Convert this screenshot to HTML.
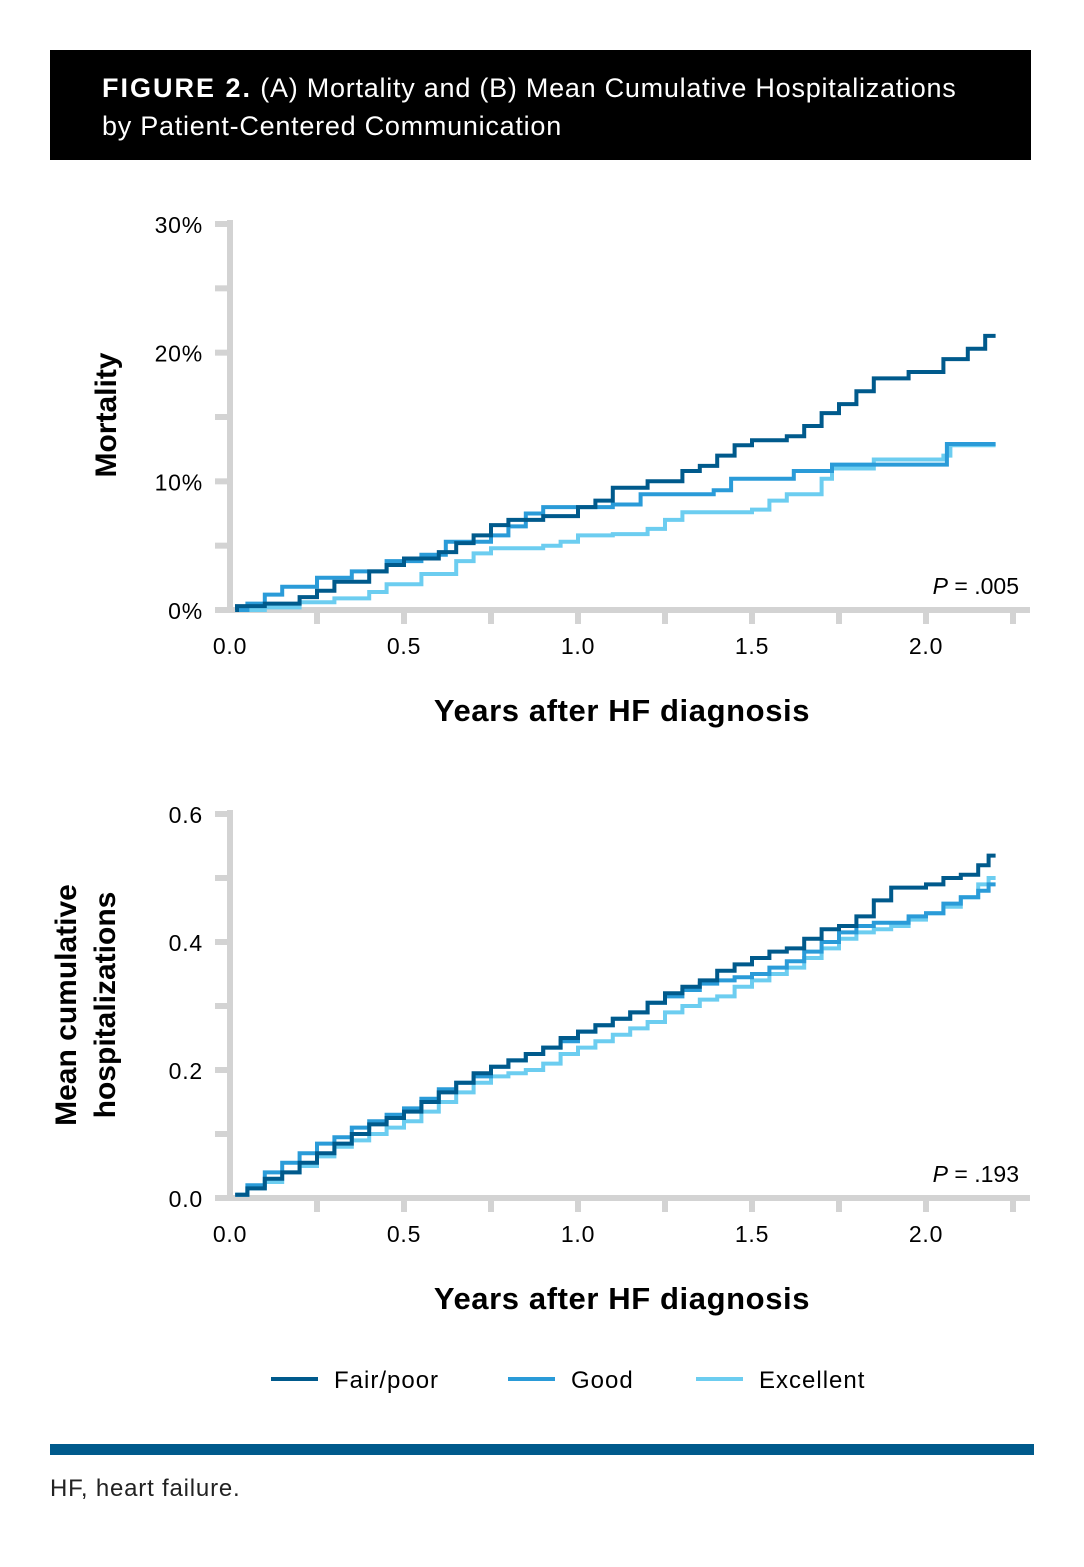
<!DOCTYPE html>
<html><head><meta charset="utf-8">
<style>
html,body{margin:0;padding:0;background:#fff;}
body{width:1084px;height:1562px;overflow:hidden;font-family:"Liberation Sans",sans-serif;}
svg text{font-family:"Liberation Sans",sans-serif;}
</style></head>
<body>
<svg id="fig" width="1084" height="1562" viewBox="0 0 1084 1562" xmlns="http://www.w3.org/2000/svg">
  <rect x="50" y="50" width="981" height="110" fill="#000"/>
  <text x="102" y="97" fill="#fff" font-size="27" letter-spacing="0.75"><tspan font-weight="bold" letter-spacing="2">FIGURE 2.</tspan> (A) Mortality and (B) Mean Cumulative Hospitalizations</text>
  <text x="102" y="135" fill="#fff" font-size="27" letter-spacing="0.75">by Patient-Centered Communication</text>
  <g id="chartA"></g>
  <g id="chartB"></g>
  <text x="116" y="415" font-size="30" font-weight="bold" text-anchor="middle" transform="rotate(-90 116 415)">Mortality</text>
  <text x="622" y="721" font-size="31" font-weight="bold" letter-spacing="0.6" text-anchor="middle">Years after HF diagnosis</text>
  <text x="76" y="1005" font-size="30" font-weight="bold" text-anchor="middle" transform="rotate(-90 76 1005)">Mean cumulative</text>
  <text x="115" y="1005" font-size="30" font-weight="bold" text-anchor="middle" transform="rotate(-90 115 1005)">hospitalizations</text>
  <text x="622" y="1309" font-size="31" font-weight="bold" letter-spacing="0.6" text-anchor="middle">Years after HF diagnosis</text>
  <g>
    <line x1="271" y1="1379" x2="318" y2="1379" stroke="#005a8c" stroke-width="4"/>
    <text x="334" y="1388" font-size="24" letter-spacing="1">Fair/poor</text>
    <line x1="508" y1="1379" x2="555" y2="1379" stroke="#2a9bd8" stroke-width="4"/>
    <text x="571" y="1388" font-size="24" letter-spacing="1">Good</text>
    <line x1="696" y1="1379" x2="743" y2="1379" stroke="#6ccdf0" stroke-width="4"/>
    <text x="759" y="1388" font-size="24" letter-spacing="1">Excellent</text>
  </g>
  <rect x="50" y="1444" width="984" height="11" fill="#005a8c"/>
  <text x="50" y="1496" font-size="24" letter-spacing="0.8" fill="#222">HF, heart failure.</text>
</svg>
<script>
const xTickLabels = ["0.0","0.5","1.0","1.5","2.0"];
const xTickValues = [0,0.5,1.0,1.5,2.0];
const aYTickLabels = ["0%","10%","20%","30%"];
const aYTickValues = [0,10,20,30];
const bYTickLabels = ["0.0","0.2","0.4","0.6"];
const bYTickValues = [0,0.2,0.4,0.6];

const aFairT = [0,0.02,0.1,0.2,0.25,0.3,0.4,0.45,0.5,0.6,0.65,0.7,0.75,0.8,0.9,1.0,1.05,1.1,1.2,1.3,1.35,1.4,1.45,1.5,1.6,1.65,1.7,1.75,1.8,1.85,1.95,2.05,2.12,2.17];
const aFairV = [0,0.3,0.5,1.0,1.5,2.2,3.0,3.5,4.0,4.5,5.2,5.8,6.6,7.0,7.3,8.0,8.5,9.5,10.0,10.8,11.2,12.0,12.8,13.2,13.5,14.3,15.3,16.0,17.0,18.0,18.5,19.5,20.3,21.3];
const aGoodT = [0,0.05,0.1,0.15,0.25,0.35,0.45,0.55,0.62,0.75,0.8,0.85,0.9,1.1,1.18,1.39,1.44,1.62,1.73,2.06];
const aGoodV = [0,0.5,1.2,1.8,2.5,3.0,3.8,4.3,5.3,5.8,6.5,7.5,8.0,8.2,9.0,9.3,10.2,10.8,11.3,12.9];
const aExcT = [0,0.1,0.2,0.3,0.4,0.45,0.55,0.65,0.7,0.75,0.9,0.95,1.0,1.1,1.2,1.25,1.3,1.5,1.55,1.6,1.7,1.73,1.85,2.05,2.07];
const aExcV = [0,0.2,0.6,0.9,1.4,2.0,2.8,3.8,4.4,4.8,5.0,5.3,5.8,5.9,6.3,7.0,7.6,7.8,8.5,9.0,10.2,11.0,11.7,12.0,12.8];

const bT = [0,0.05,0.1,0.15,0.2,0.25,0.3,0.35,0.4,0.45,0.5,0.55,0.6,0.65,0.7,0.75,0.8,0.85,0.9,0.95,1.0,1.05,1.1,1.15,1.2,1.25,1.3,1.35,1.4,1.45,1.5,1.55,1.6,1.65,1.7,1.75,1.8,1.85,1.9,1.95,2.0,2.05,2.1,2.15,2.18];
const bFairV = [0.005,0.015,0.03,0.04,0.055,0.07,0.085,0.1,0.115,0.125,0.135,0.15,0.165,0.18,0.195,0.205,0.215,0.225,0.235,0.25,0.26,0.27,0.28,0.29,0.305,0.32,0.33,0.34,0.355,0.365,0.375,0.385,0.39,0.405,0.42,0.425,0.44,0.465,0.485,0.485,0.49,0.5,0.505,0.52,0.535];
const bGoodV = [0.005,0.02,0.04,0.055,0.07,0.085,0.095,0.11,0.12,0.13,0.14,0.155,0.17,0.18,0.19,0.205,0.215,0.225,0.235,0.245,0.26,0.27,0.28,0.29,0.305,0.315,0.325,0.335,0.34,0.345,0.35,0.36,0.37,0.385,0.4,0.415,0.425,0.43,0.43,0.44,0.445,0.46,0.47,0.48,0.49];
const bExcV = [0.005,0.015,0.025,0.04,0.05,0.065,0.08,0.09,0.1,0.11,0.12,0.135,0.15,0.165,0.18,0.19,0.195,0.2,0.21,0.225,0.235,0.245,0.255,0.265,0.275,0.29,0.3,0.31,0.315,0.33,0.34,0.35,0.36,0.375,0.39,0.405,0.415,0.42,0.425,0.435,0.445,0.455,0.47,0.49,0.5];

const NS = "http://www.w3.org/2000/svg";
function mk(tag, attrs, parent){const e=document.createElementNS(NS,tag);for(const k in attrs)e.setAttribute(k,attrs[k]);parent.appendChild(e);return e;}

function drawChart(g, y0, yTop, yMax, yLabels, yVals, series, pText, prefix){
  const xs = t => 230 + t*348;
  const ys = v => y0 - (v/yMax)*(y0-yTop);
  const ax = mk('line',{x1:230,y1:yTop-4,x2:230,y2:y0+3,stroke:'#d3d3d3','stroke-width':6},g);
  
  
  const bx = mk('line',{x1:215,y1:y0,x2:1030,y2:y0,stroke:'#d3d3d3','stroke-width':6},g);
  
  
  for(let i=0;i<=6;i++){
    const v = yMax*i/6;
    const tk = mk('line',{x1:215,y1:ys(v),x2:230,y2:ys(v),stroke:'#d3d3d3','stroke-width':6},g);
    
    
  }
  for(let i=1;i<=9;i++){
    const x = xs(i*0.25);
    const tk = mk('line',{x1:x,y1:y0,x2:x,y2:y0+14,stroke:'#d3d3d3','stroke-width':6},g);
    
    
  }
  yVals.forEach((v,i)=>{
    const t = mk('text',{x:203,y:ys(v)+9,'font-size':23,'letter-spacing':0.8,'text-anchor':'end'},g);
    t.textContent = yLabels[i];
    
    
  });
  xTickValues.forEach((v,i)=>{
    const t = mk('text',{x:xs(v),y:y0+44,'font-size':23,'letter-spacing':0.8,'text-anchor':'middle'},g);
    t.textContent = xTickLabels[i];
    
    
  });
  series.forEach(s=>{
    let d = 'M'+xs(s.t[0]+0.015)+','+ys(s.v[0]);
    for(let i=1;i<s.t.length;i++){
      d += ' H'+xs(s.t[i]).toFixed(1)+' V'+ys(s.v[i]).toFixed(1);
    }
    d += ' H'+xs(2.2).toFixed(1);
    const p = mk('path',{d:d,fill:'none',stroke:s.c,'stroke-width':4},g);
    
    
  });
  const pt = mk('text',{x:1019,y:y0-16,'font-size':23,'text-anchor':'end'},g);
  pt.innerHTML = '<tspan font-style="italic">P</tspan> = '+pText;
  
  
}

drawChart(document.getElementById('chartA'),610,224,30,aYTickLabels,aYTickValues,[
  {t:aExcT,v:aExcV,c:'#6ccdf0',n:'excellent'},
  {t:aGoodT,v:aGoodV,c:'#2a9bd8',n:'good'},
  {t:aFairT,v:aFairV,c:'#005a8c',n:'fair-poor'}],'.005','a');
drawChart(document.getElementById('chartB'),1198,814,0.6,bYTickLabels,bYTickValues,[
  {t:bT,v:bExcV,c:'#6ccdf0',n:'excellent'},
  {t:bT,v:bGoodV,c:'#2a9bd8',n:'good'},
  {t:bT,v:bFairV,c:'#005a8c',n:'fair-poor'}],'.193','b');
</script>
</body></html>
